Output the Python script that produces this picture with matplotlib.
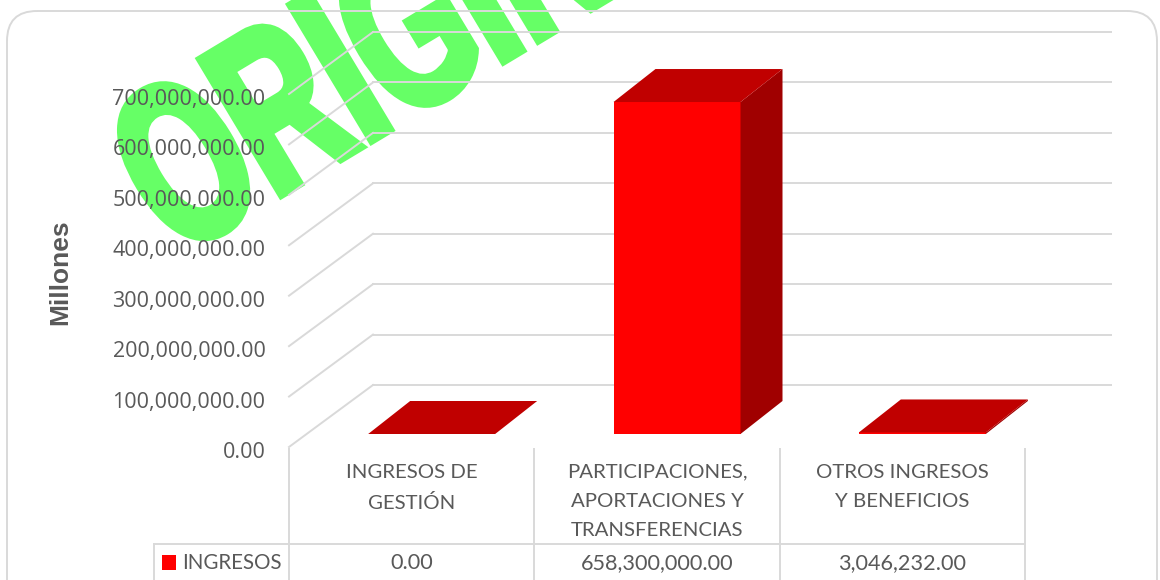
import matplotlib
matplotlib.use('Agg')
import matplotlib.pyplot as plt
from matplotlib.patches import FancyBboxPatch, Rectangle
from matplotlib.patheffects import AbstractPathEffect
from matplotlib.ticker import FuncFormatter
from matplotlib.transforms import Affine2D

categorias = ['INGRESOS DE\nGESTIÓN', 'PARTICIPACIONES,\nAPORTACIONES Y\nTRANSFERENCIAS', 'OTROS INGRESOS\nY BENEFICIOS']
ingresos = [0.0, 658300000.0, 3046232.0]
ticks = [0, 100000000, 200000000, 300000000, 400000000, 500000000, 600000000, 700000000]
serie = 'INGRESOS'
marca = 'ORIGINAL'

GRIS = '#595959'
LINEA = '#D9D9D9'
LW = 1.4
CAT = ['Lato', 'DejaVu Sans']

# pixeles de la imagen, origen arriba a la izquierda
W, H = 1160, 580
fig = plt.figure(figsize=(W / 100, H / 100), dpi=100)
px = Affine2D().scale(1, -1).translate(0, H)

# ejes sobre el frente del grafico
x0, x1, y0, y1 = 289, 1025, 447, 94
ax = fig.add_axes([x0 / W, (H - y0) / H, (x1 - x0) / W, (y0 - y1) / H])
ax.set_xlim(-0.5, 2.5)
ax.set_ylim(0, 700000000)
ax.patch.set_visible(False)
for s in ax.spines.values():
    s.set_visible(False)
ux = (x1 - x0) / 3.0
uy = (y0 - y1) / 700000000.0


class Estirar(AbstractPathEffect):
    # estira el texto en el sentido de la linea base y en perpendicular
    def __init__(self, punto, angulo, sx, sy, grosor):
        self.punto, self.angulo, self.sx, self.sy, self.grosor = punto, angulo, sx, sy, grosor

    def draw_path(self, renderer, gc, tpath, affine, rgbFace=None):
        a = Affine2D().translate(-self.punto[0], -self.punto[1]).rotate_deg(-self.angulo)
        a = a.scale(self.sx, self.sy).rotate_deg(self.angulo).translate(*self.punto)
        g = renderer.new_gc()
        g.copy_properties(gc)
        g.set_linewidth(self.grosor)
        g.set_foreground(rgbFace)
        g.set_joinstyle('miter')
        renderer.draw_path(g, tpath, affine + a, rgbFace)
        g.restore()


# marca de agua
base = (176, 258)
fig.text(base[0], base[1], marca, transform=px, rotation=31, rotation_mode='anchor', ha='left', va='baseline',
         color='#66FF66', fontsize=100, fontweight='bold', family='Liberation Sans', zorder=-1,
         path_effects=[Estirar((base[0], H - base[1]), 31, 1.05, 1.65, 6)])

# marco redondeado
fig.add_artist(FancyBboxPatch((37, 41), 1090, 600, boxstyle='round,pad=30,rounding_size=30', transform=px,
                              fc='none', ec=LINEA, lw=LW, zorder=1))

# cuadricula con profundidad
fx = 84 / ux
fy = 62 / uy
fin = (1111 - x0) / ux - 0.5
for v in ticks:
    ax.plot([-0.5, -0.5 + fx], [v, v + fy], color=LINEA, lw=LW, clip_on=False, zorder=1)
    ax.plot([-0.5 + fx, fin], [v + fy, v + fy], color=LINEA, lw=LW, clip_on=False, zorder=1)

# barras
ancho = 127 / ux
dx = 20 / ux
suelo = 13 / uy
px_x = 42 / ux
px_y = 33 / uy
for i, v in enumerate(ingresos):
    c = i + dx
    iz, de = c - ancho / 2, c + ancho / 2
    arriba = suelo + v
    ax.bar(c, v, ancho, bottom=suelo, color='#FF0000', zorder=3, clip_on=False)
    ax.fill([iz, de, de + px_x, iz + px_x], [arriba, arriba, arriba + px_y, arriba + px_y], color='#C00000', lw=0, zorder=4, clip_on=False)
    ax.fill([de, de + px_x, de + px_x, de], [suelo, suelo + px_y, arriba + px_y, arriba], color='#A00000', lw=0, zorder=3, clip_on=False)

# ejes
ax.set_yticks(ticks)
ax.yaxis.set_major_formatter(FuncFormatter(lambda v, p: format(v, ',.2f')))
ax.tick_params(axis='y', length=0, pad=17, labelsize=15.5, labelcolor=GRIS)
for t in ax.get_yticklabels():
    t.set_family('Open Sans')
    t.set_transform(t.get_transform() + Affine2D().translate(0, -3))
ax.set_xticks(range(3))
ax.set_xticklabels(categorias, family=CAT, fontsize=14.7, color=GRIS, linespacing=1.87)
ax.tick_params(axis='x', length=0, pad=12)
fig.text(60, 272, 'Millones', transform=px, rotation=90, ha='center', va='center', color=GRIS,
         fontsize=19, fontweight='bold', family='Liberation Sans')

# tabla de datos
for i in range(4):
    fig.add_artist(plt.Line2D([x0 + i * ux] * 2, [449, H + 5], transform=px, color=LINEA, lw=LW))
fig.add_artist(plt.Line2D([154, x1], [544, 544], transform=px, color=LINEA, lw=LW))
fig.add_artist(plt.Line2D([154, 154], [544, H + 5], transform=px, color=LINEA, lw=LW))
fig.add_artist(Rectangle((162, 555), 14, 15, transform=px, fc='#FF0000', ec='none'))
fig.text(182, 563, serie, transform=px, ha='left', va='center', color=GRIS, fontsize=14.8, family=CAT)
for i, v in enumerate(ingresos):
    fig.text(x0 + (i + 0.5) * ux, 563, format(v, ',.2f'), transform=px, ha='center', va='center', color=GRIS, fontsize=15.6, family=CAT)

fig.savefig('out.png', dpi=100)
